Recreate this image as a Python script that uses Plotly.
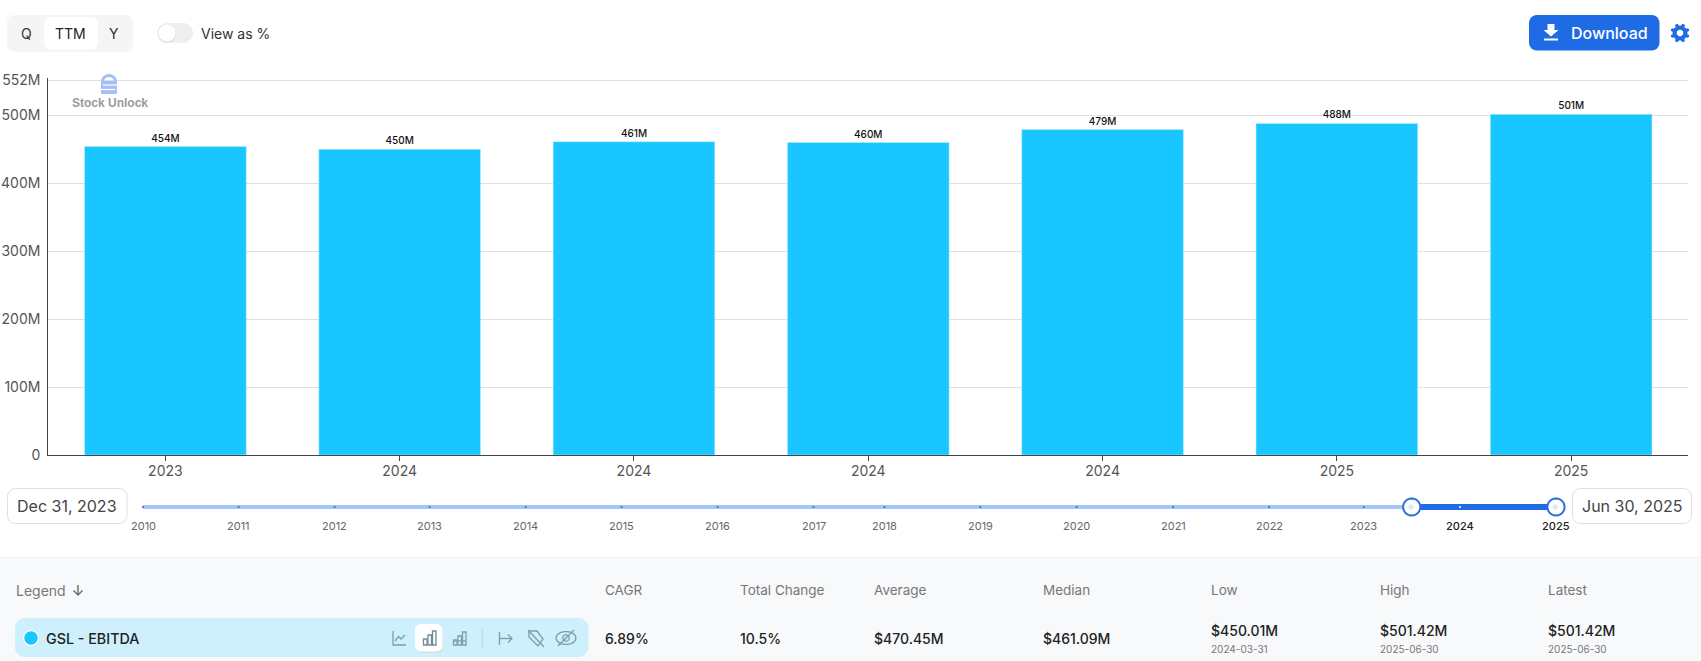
import math
import plotly.graph_objects as go

# ---------- data ----------
periods = ["2023-12-31", "2024-03-31", "2024-06-30", "2024-09-30", "2024-12-31", "2025-03-31", "2025-06-30"]
tick_years = ["2023", "2024", "2024", "2024", "2024", "2025", "2025"]
ebitda_m = [454, 450.01, 461.09, 460, 479, 488, 501.42]
bar_labels = ["454M", "450M", "461M", "460M", "479M", "488M", "501M"]
y_ticks = [0, 100, 200, 300, 400, 500, 552]
y_tick_labels = ["0", "100M", "200M", "300M", "400M", "500M", "552M"]
slider_years = ["2010", "2011", "2012", "2013", "2014", "2015", "2016", "2017",
                "2018", "2019", "2020", "2021", "2022", "2023", "2024", "2025"]
table_heads = ["CAGR", "Total Change", "Average", "Median", "Low", "High", "Latest"]
table_vals = ["6.89%", "10.5%", "$470.45M", "$461.09M", "$450.01M", "$501.42M", "$501.42M"]
table_dates = ["", "", "", "", "2024-03-31", "2025-06-30", "2025-06-30"]

# ---------- page layout (pixels) ----------
W, H = 1701, 661
FONT = "Inter"
BLUE = "#1f6be6"
PX, PY = (lambda x: x / W), (lambda y: 1 - y / H)
shapes, notes = [], []


def path(d, fill=None, line=None, lw=1, layer="below"):
    s = dict(type="path", xref="paper", yref="paper", path=d, layer=layer,
             line=dict(color=line or "rgba(0,0,0,0)", width=lw if line else 0))
    if fill:
        s["fillcolor"] = fill
    shapes.append(s)


def pts(points, close=False):
    d = "M" + " L".join(f"{PX(x):.5f},{PY(y):.5f}" for x, y in points)
    return d + (" Z" if close else "")


def rrect(x0, y0, x1, y1, r, fill=None, line=None, lw=1, layer="below"):
    p = []
    for cx, cy, a0 in [(x1 - r, y0 + r, -90), (x1 - r, y1 - r, 0), (x0 + r, y1 - r, 90), (x0 + r, y0 + r, 180)]:
        for k in range(7):
            a = math.radians(a0 + 15 * k)
            p.append((cx + r * math.cos(a), cy + r * math.sin(a)))
    path(pts(p, True), fill, line, lw, layer)


def circle(cx, cy, r, fill=None, line=None, lw=1, layer="below"):
    rrect(cx - r, cy - r, cx + r, cy + r, r, fill, line, lw, layer)


def stroke(points, color, lw=1.3, layer="below"):
    path(pts(points), None, color, lw, layer)


def text(x, y, t, size=14, color="#444", anchor="left", weight=400, family=FONT):
    notes.append(dict(xref="paper", yref="paper", x=PX(x), y=PY(y), text=t, showarrow=False,
                      xanchor=anchor, yanchor="middle", borderpad=0,
                      font=dict(family=family, size=size, color=color, weight=weight)))


# --- top controls ---
rrect(7, 15, 133, 52, 8, "#f5f5f5")
rrect(45, 18, 97, 49, 7, "#e9e9e9")
rrect(44, 17, 98, 49.5, 7, "#ffffff")
text(26, 33, "Q", 14, "#333", "center")
text(70.5, 33, "TTM", 14, "#222", "center", 400)
text(113.5, 33, "Y", 14, "#333", "center")
rrect(157, 23, 193, 43, 10, "#efefef")
circle(167, 33.5, 9, "#dddddd")
circle(167, 33, 8.5, "#ffffff")
text(200, 33, "View as %", 14, "#333")

rrect(1529, 15, 1659.5, 50.5, 8, BLUE)
path(pts([(1547.5, 24), (1554.5, 24), (1554.5, 30), (1558.5, 30), (1551, 36.5), (1543.5, 30), (1547.5, 30)], True), "#ffffff")
stroke([(1544, 39.5), (1558, 39.5)], "#ffffff", 2)
text(1609.5, 33, "Download", 16, "#ffffff", "center", 500)
gear = []
for i in range(8):
    base = i * 45 - 22.5
    for da, r in [(-13, 7.5), (-9, 9.6), (9, 9.6), (13, 7.5), (32, 7.5)]:
        a = math.radians(base + da)
        gear.append((1680 + r * math.cos(a), 33 + r * math.sin(a)))
path(pts(gear, True), BLUE)
circle(1680, 33, 3.3, "#ffffff")

# --- watermark lock ---
arc = [(109 + 6.5 * math.cos(math.radians(a)), 81.5 + 6 * math.sin(math.radians(a))) for a in range(180, 361, 15)]
stroke(arc, "#a5bff7", 3, "above")
rrect(101, 81, 117, 94, 1, "#a5bff7", layer="above")
stroke([(103, 85), (117, 85)], "#ffffff", 1.2, "above")
stroke([(101, 89.5), (115, 89.5)], "#ffffff", 1.2, "above")
text(109.5, 102.7, "Stock Unlock", 12, "#9a9a9a", "center", 700, "Liberation Sans")

# --- range slider ---
slider_px = [143, 238.6, 334.6, 429.6, 525.7, 621.6, 717.6, 813.5, 884.4, 980.3, 1076.6, 1173, 1269, 1363.7, 1460, 1556]
rrect(7.5, 488.5, 127, 523.5, 8, "#ffffff", "#dfdfdf", 1)
text(67, 506, "Dec 31, 2023", 16, "#444", "center")
rrect(1572.5, 488.5, 1691.5, 523.5, 8, "#ffffff", "#dfdfdf", 1)
text(1632, 506, "Jun 30, 2025", 16, "#444", "center")
rrect(143, 505, 1412, 509, 1, "#a7c5f6")
path(pts([(1412, 504), (1556, 504), (1556, 510), (1412, 510)], True), BLUE)
for year, x in zip(slider_years, slider_px):
    selected = year in ("2024", "2025")
    path(pts([(x - 1, 506), (x + 1, 506), (x + 1, 508), (x - 1, 508)], True),
         "#cfe0fb" if selected else "#3f7cf0")
    text(x, 526, year, 11, "#222" if selected else "#666", "center", 500 if selected else 400)
for x in (1411.7, 1556):
    circle(x, 507, 8.6, "#ffffff", "#2f6fdc", 2)
    rrect(x - 3.5, 504.5, x + 2, 509.5, 2.5, "#dfe9fb")

# --- bottom panel ---
path(pts([(0, 558), (W, 558), (W, H), (0, H)], True), "#f8f9fb", layer="below")
path(pts([(0, 557), (W, 557), (W, 558), (0, 558)], True), "#f1f2f4", layer="below")
text(14.5, 590, "Legend", 14, "#777")
stroke([(78, 585), (78, 595)], "#666", 1.4)
stroke([(73.5, 590.5), (78, 595), (82.5, 590.5)], "#666", 1.4)
col_x = [604.4, 739, 873.4, 1042, 1210, 1379, 1547]
for x, head, val, date in zip(col_x, table_heads, table_vals, table_dates):
    text(x, 590, head, 13.5, "#777")
    text(x, 630 if date else 638, val, 14, "#222", "left", 500)
    if date:
        text(x, 648.5, date, 10, "#777")

# --- legend row ---
rrect(15, 618, 588.5, 657, 10, "#cdf0fc")
circle(31, 638, 8, "#ffffff")
circle(31, 638, 6.7, "#1ac6ff")
text(45, 638, "GSL - EBITDA", 14.3, "#222", "left", 500)
rrect(415.5, 625, 443, 653, 6, "#d5dfe4")
rrect(415, 624, 442.5, 651.5, 6, "#ffffff")
ic = "#7f9caa"
stroke([(393, 631), (393, 645), (406, 645)], ic)
stroke([(395, 641), (398.5, 636.5), (401, 639), (405, 635)], ic)
for bx, top in [(423.5, 639), (428, 635), (432.5, 631)]:
    path(pts([(bx, 645), (bx, top), (bx + 3.5, top), (bx + 3.5, 645)], True), None, "#6f8a96", 1.3)
for bx, top in [(453.5, 640), (458, 636), (462.5, 632)]:
    path(pts([(bx, 645), (bx, top), (bx + 3.5, top), (bx + 3.5, 645)], True), None, ic, 1.3)
    stroke([(bx, 641), (bx + 3.5, 641)], ic)
stroke([(482.3, 629), (482.3, 647)], "#b6d5df", 1)
stroke([(499.5, 632), (499.5, 645)], ic)
stroke([(499.5, 638.5), (512, 638.5)], ic)
stroke([(508, 634.5), (512, 638.5), (508, 642.5)], ic)
stroke([(529, 631), (537, 631), (543, 639), (538, 646), (529, 637), (529, 631)], ic)
stroke([(528, 630), (544, 647)], ic)
eye = [(566 + 10 * math.cos(math.radians(a)), 638 + 6.5 * math.sin(math.radians(a))) for a in range(0, 361, 20)]
stroke(eye, ic)
circle(566, 638, 3.2, None, ic, 1.2)
stroke([(558, 646), (574, 630)], ic)

# ---------- figure ----------
fig = go.Figure(go.Bar(
    x=periods, y=ebitda_m, width=0.69, marker=dict(color="#1ac6ff", line=dict(color="#bdeeff", width=0.5)),
    text=bar_labels, textposition="outside", cliponaxis=False, textangle=0,
    textfont=dict(family=FONT, size=10, color="#111", weight=500), constraintext="none", showlegend=False,
))
y_top = 555
plot_h = 375
fig.update_layout(
    width=W, height=H, margin=dict(l=0, r=0, t=0, b=0), autosize=False,
    paper_bgcolor="#ffffff", plot_bgcolor="rgba(0,0,0,0)",
    font=dict(family=FONT, size=14, color="#555"),
    shapes=shapes, annotations=notes, uniformtext=dict(mode=False),
    xaxis=dict(type="category", domain=[48.25 / W, 1688.3 / W], tickmode="array", automargin=False,
               tickvals=periods, ticktext=tick_years, ticks="outside", ticklen=5, tickcolor="#444",
               tickfont=dict(family=FONT, size=14, color="#555"), ticklabelstandoff=-2,
               showline=True, linecolor="#444", linewidth=1, showgrid=False, zeroline=False,
               range=[-0.5, 6.5], anchor="y"),
    yaxis=dict(domain=[1 - 455 / H, 1 - (455 - plot_h * y_top / 552) / H], range=[0, y_top], tickmode="array",
               automargin=False, tickvals=y_ticks, ticktext=y_tick_labels, ticks="", showline=True, linecolor="#444",
               linewidth=1, gridcolor="#e0e0e0", gridwidth=1, zeroline=False, ticklabelstandoff=4,
               tickfont=dict(family=FONT, size=14, color="#555")),
)
fig.write_html("out.html", config=dict(displayModeBar=False),
               post_script="document.body.style.margin='0';document.body.style.overflow='hidden';")
